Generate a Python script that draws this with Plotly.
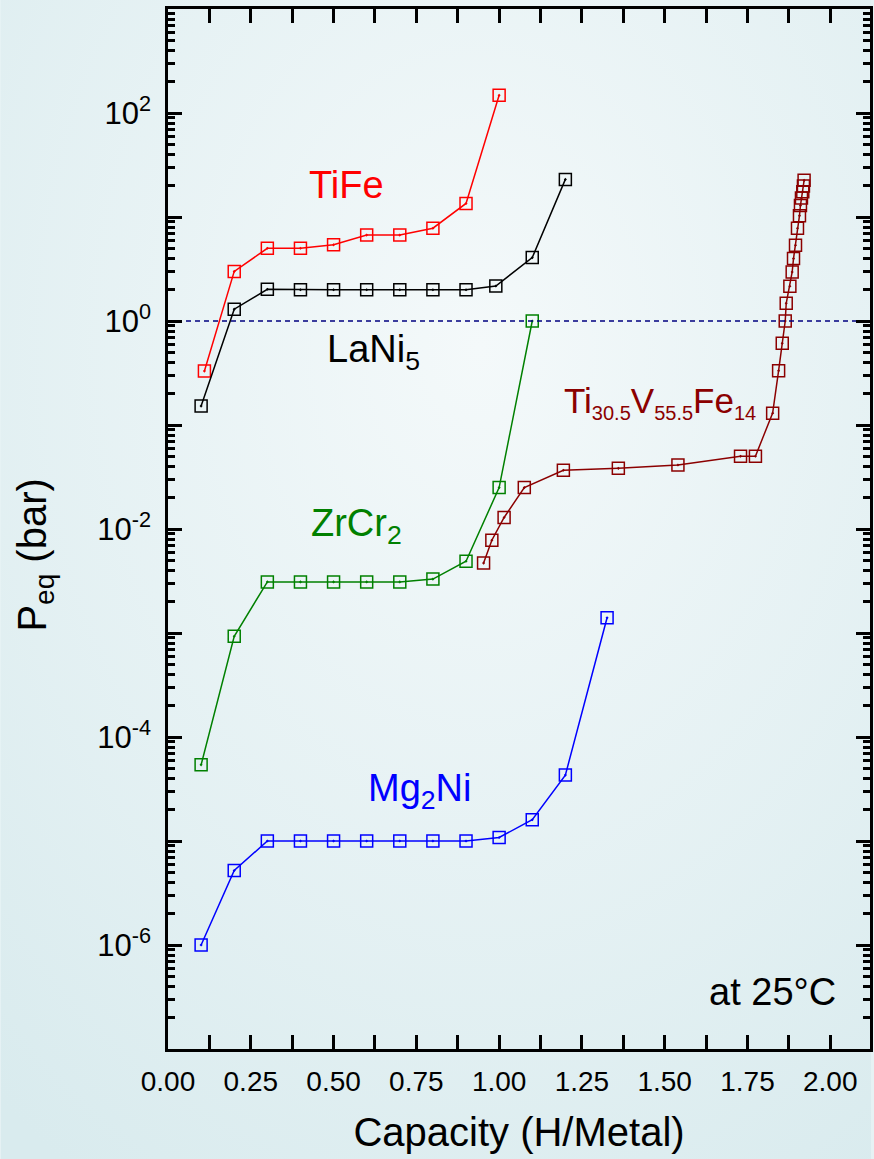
import base64
import math
import plotly.graph_objects as go

# Equilibrium pressure vs hydrogen capacity at 25 °C
tife_x = [0.11, 0.2, 0.3, 0.4, 0.5, 0.6, 0.7, 0.8, 0.9, 1.0]
tife_p = [0.33, 3.0, 5.0, 5.0, 5.4, 6.7, 6.7, 7.8, 13.5, 148]

lani5_x = [0.1, 0.2, 0.3, 0.4, 0.5, 0.6, 0.7, 0.8, 0.9, 0.99, 1.1, 1.2]
lani5_p = [0.152, 1.3, 2.02, 2.0, 2.0, 2.0, 2.0, 2.0, 2.0, 2.17, 4.07, 23]

zrcr2_x = [0.1, 0.2, 0.3, 0.4, 0.5, 0.6, 0.7, 0.8, 0.9, 1.0, 1.1]
zrcr2_p = [5.4e-5, 9.3e-4, 3.1e-3, 3.1e-3, 3.1e-3, 3.1e-3, 3.1e-3, 3.3e-3, 4.9e-3, 0.025, 1.0]

mg2ni_x = [0.1, 0.2, 0.3, 0.4, 0.5, 0.6, 0.7, 0.8, 0.9, 1.0, 1.1, 1.2, 1.326]
mg2ni_p = [1e-6, 5.2e-6, 1e-5, 1e-5, 1e-5, 1e-5, 1e-5, 1e-5, 1e-5, 1.08e-5, 1.6e-5, 4.3e-5, 1.4e-3]

tivfe_x = [0.953, 0.978, 1.015, 1.076, 1.194, 1.36, 1.54, 1.729, 1.774, 1.826,
           1.844, 1.855, 1.864, 1.867, 1.878, 1.885, 1.889, 1.895, 1.901, 1.907,
           1.910, 1.913, 1.917, 1.919, 1.921]
tivfe_p = [4.7e-3, 7.8e-3, 0.0129, 0.025, 0.0367, 0.0383, 0.0412, 0.050, 0.050, 0.130,
           0.333, 0.61, 1.0, 1.48, 2.16, 2.96, 3.98, 5.35, 7.8, 10.3,
           12.9, 15.2, 17.5, 19.9, 22.5]

# Alloy labels: text, x, pressure, font size
SUB = '<sub><span style="font-size:20px">{}</span></sub>'
label_text = ["TiFe", "LaNi<sub>5</sub>", "ZrCr<sub>2</sub>", "Mg<sub>2</sub>Ni",
              "Ti" + SUB.format("30.5") + "V" + SUB.format("55.5") + "Fe" + SUB.format("14")]
label_x = [0.54, 0.62, 0.57, 0.76, 1.485]
label_p = [20.5, 0.5, 0.0108, 3.0e-5, 0.165]
label_size = [38, 38, 38, 38, 35]

X_RANGE = [0, 2.12]
Y_EXP = [-7, 3]
REF_P = 1.0

FONT = "Liberation Sans, Arial, sans-serif"

series = [
    (tife_x, tife_p, "#ff0000"),
    (lani5_x, lani5_p, "#000000"),
    (zrcr2_x, zrcr2_p, "#008000"),
    (mg2ni_x, mg2ni_p, "#0000ff"),
    (tivfe_x, tivfe_p, "#8b0000"),
]

fig = go.Figure()

# 1 bar reference line (on the overlay axis that carries the odd-decade ticks)
fig.add_trace(go.Scatter(
    x=X_RANGE, y=[REF_P, REF_P], mode="lines", yaxis="y2",
    line=dict(color="#000080", width=1.5, dash="5px,4px"),
    hoverinfo="skip", showlegend=False,
))

for xs, ps, col in series:
    fig.add_trace(go.Scatter(
        x=xs, y=ps, mode="lines+markers",
        line=dict(color=col, width=1.5),
        marker=dict(symbol="square-open-dot", size=12, color=col,
                    line=dict(width=1.5, color=col)),
        showlegend=False, cliponaxis=False,
    ))

for t, lx, lp, fs, (_, _, col) in zip(label_text, label_x, label_p, label_size, series):
    fig.add_annotation(x=lx, y=math.log10(lp), text=t, showarrow=False,
                       font=dict(family=FONT, size=fs, color=col),
                       xanchor="center", yanchor="middle")

fig.add_annotation(x=0.955, y=0.055, xref="paper", yref="paper", text="at 25°C",
                   showarrow=False, xanchor="right", yanchor="middle",
                   font=dict(family=FONT, size=38, color="#000000"))

fig.add_annotation(x=-0.19, y=0.475, xref="paper", yref="paper",
                   text="P<sub>eq</sub> (bar)", textangle=-90, showarrow=False,
                   xanchor="center", yanchor="middle",
                   font=dict(family=FONT, size=40, color="#000000"))

# y ticks: labelled even decades, unlabelled odd decades, minor 2..9
decades = list(range(Y_EXP[0], Y_EXP[1] + 1))
y_even = [10.0 ** e for e in decades if e % 2 == 0]
y_even_text = [f"10<sup>{e}</sup>" for e in decades if e % 2 == 0]
y_odd = [10.0 ** e for e in decades if e % 2 != 0]
y_minor = [k * 10.0 ** e for e in decades[:-1] for k in range(2, 10)]

x_tickvals = [0.0, 0.25, 0.5, 0.75, 1.0, 1.25, 1.5, 1.75, 2.0]
x_ticktext = [f"{v:.2f}" for v in x_tickvals]
x_minor = [v + 0.125 for v in x_tickvals]

tick_style = dict(ticks="inside", ticklen=14, tickwidth=2.5, tickcolor="#000000")
minor_style = dict(ticks="inside", ticklen=7, tickwidth=2.5, tickcolor="#000000",
                   showgrid=False)

fig.update_layout(
    xaxis=dict(
        range=X_RANGE, tickmode="array", tickvals=x_tickvals, ticktext=x_ticktext,
        minor=dict(tickmode="array", tickvals=x_minor, **minor_style),
        showline=True, linewidth=2.5, linecolor="#000000", mirror="allticks",
        showgrid=False, zeroline=False,
        tickfont=dict(family=FONT, size=28, color="#000000"),
        ticklabelstandoff=6,
        title=dict(text="Capacity (H/Metal)",
                   font=dict(family=FONT, size=40, color="#000000"), standoff=22),
        **tick_style,
    ),
    yaxis=dict(
        type="log", range=Y_EXP, tickmode="array", tickvals=y_even, ticktext=y_even_text,
        minor=dict(tickmode="array", tickvals=y_minor, **minor_style),
        showline=True, linewidth=2.5, linecolor="#000000", mirror="allticks",
        showgrid=False, zeroline=False,
        tickfont=dict(family=FONT, size=31, color="#000000"),
        ticklabelstandoff=8,
        **tick_style,
    ),
    yaxis2=dict(
        type="log", range=Y_EXP, overlaying="y", side="left",
        tickmode="array", tickvals=y_odd, showticklabels=False,
        showline=False, mirror="allticks", showgrid=False, zeroline=False,
        **tick_style,
    ),
)

W, H = 874, 1159
ML, MR, MT, MB = 168, 1, 9, 110
PW, PH = W - ML - MR, H - MT - MB

# soft blue page background
svg = (
    f'<svg xmlns="http://www.w3.org/2000/svg" width="{W}" height="{H}">'
    '<defs><radialGradient id="g" cx="0.55" cy="0.3" r="0.85">'
    '<stop offset="0" stop-color="#f4f9fa"/><stop offset="1" stop-color="#d9ebee"/>'
    '</radialGradient></defs>'
    f'<rect width="{W}" height="{H}" fill="url(#g)"/></svg>'
)
bg_src = "data:image/svg+xml;base64," + base64.b64encode(svg.encode()).decode()

fig.update_layout(
    width=W, height=H,
    margin=dict(l=ML, r=MR, t=MT, b=MB),
    paper_bgcolor="#e6f2f4", plot_bgcolor="rgba(0,0,0,0)",
    font=dict(family=FONT),
    images=[dict(source=bg_src, xref="paper", yref="paper",
                 x=-ML / PW, y=1 + MT / PH, sizex=W / PW, sizey=H / PH,
                 xanchor="left", yanchor="top", sizing="stretch", layer="below")],
)

fig.write_html("out.html")
